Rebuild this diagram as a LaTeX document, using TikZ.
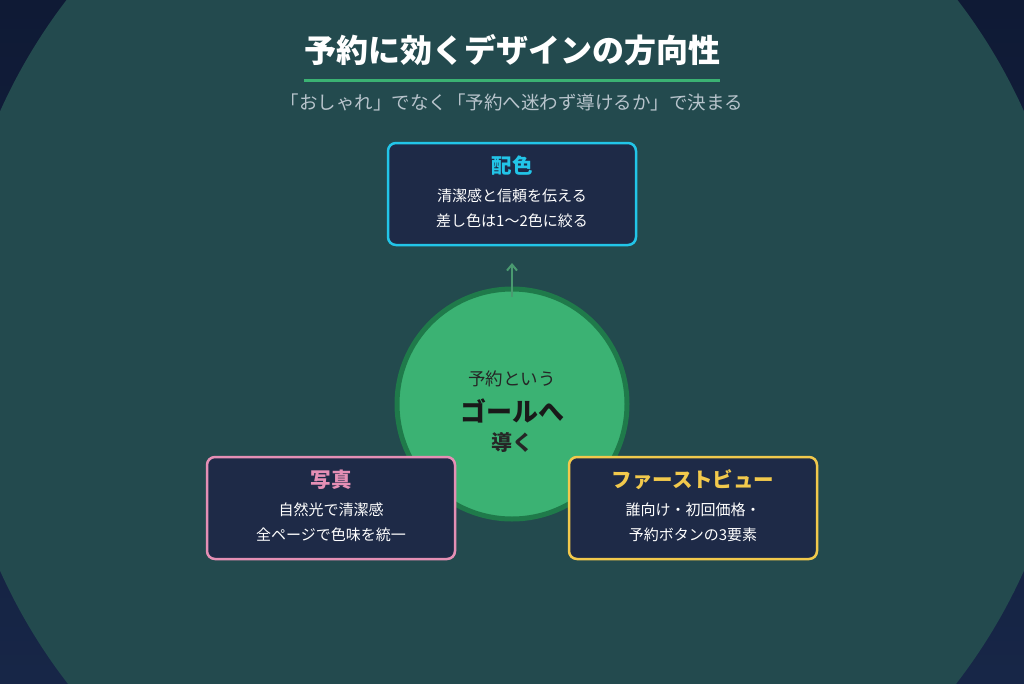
\documentclass[tikz,border=0pt]{standalone}
\usepackage{fontspec}
\setmainfont{Noto Sans CJK JP}
\usetikzlibrary{positioning,arrows.meta}
\definecolor{navytop}{HTML}{0F1A35}
\definecolor{navybot}{HTML}{172647}
\definecolor{teal}{HTML}{234A4E}
\definecolor{boxfill}{HTML}{1E2A47}
\definecolor{cyanline}{HTML}{22C5E8}
\definecolor{pinkline}{HTML}{E58FB5}
\definecolor{yellowline}{HTML}{F2C94C}
\definecolor{goalfill}{HTML}{3BB273}
\definecolor{goalline}{HTML}{1F7A4A}
\definecolor{arrowgreen}{HTML}{4A9A70}
\definecolor{subgray}{HTML}{B8C4CC}
\tikzset{
  card/.style={draw=#1, line width=2.5pt, fill=boxfill, rounded corners=8pt,
    minimum width=248pt, minimum height=102pt},
  cardtitle/.style={text=#1, font=\bfseries\fontsize{20.5}{22}\selectfont},
  cardbody/.style={text=white, font=\fontsize{15}{25}\selectfont, align=center}
}
\begin{document}
\begin{tikzpicture}[x=1pt,y=-1pt]
  \useasboundingbox (0,0) rectangle (1024,683);
  % background
  \shade[top color=navytop, bottom color=navybot] (0,0) rectangle (1024,683);
  \begin{scope}
    \clip (0,0) rectangle (1024,683);
    \fill[teal] (512,341) circle (561);
  \end{scope}
  % title
  \node[text=white, font=\bfseries\fontsize{32}{34}\selectfont] (title) at (512,50) {予約に効くデザインの方向性};
  \draw[goalfill, line width=3pt] (304,80) -- (720,80);
  \node[text=subgray, font=\fontsize{18.5}{20}\selectfont] (subtitle) at (512,102) {「おしゃれ」でなく「予約へ迷わず導けるか」で決まる};
  % goal
  \node[circle, fill=goalfill, draw=goalline, line width=5pt, minimum size=230pt] (goal) at (512,404) {};
  \node[text=black!85, font=\fontsize{17.5}{20}\selectfont] (goal1) at (512,379) {予約という};
  \node[text=black!90, font=\bfseries\fontsize{26}{30}\selectfont] (goal2) at (512,411) {ゴールへ};
  \node[text=black!85, font=\bfseries\fontsize{21}{24}\selectfont] (goal3) at (512,442) {導く};
  % cards
  \node[card=cyanline] (color) at (512,194) {};
  \node[cardtitle=cyanline] at (512,166) {配色};
  \node[cardbody] at (512,208) {清潔感と信頼を伝える\\差し色は1〜2色に絞る};
  \node[card=pinkline] (photo) at (331,508) {};
  \node[cardtitle=pinkline] at (331,480) {写真};
  \node[cardbody] at (331,522) {自然光で清潔感\\全ページで色味を統一};
  \node[card=yellowline] (view) at (693,508) {};
  \node[cardtitle=yellowline] at (693,480) {ファーストビュー};
  \node[cardbody] at (693,522) {誰向け・初回価格・\\予約ボタンの3要素};
  % arrow
  \draw[arrowgreen, line width=2pt, -{Straight Barb[length=6pt,width=10pt]}] (goal.north) ++(0,10) -- (512,263);
\end{tikzpicture}
\end{document}
